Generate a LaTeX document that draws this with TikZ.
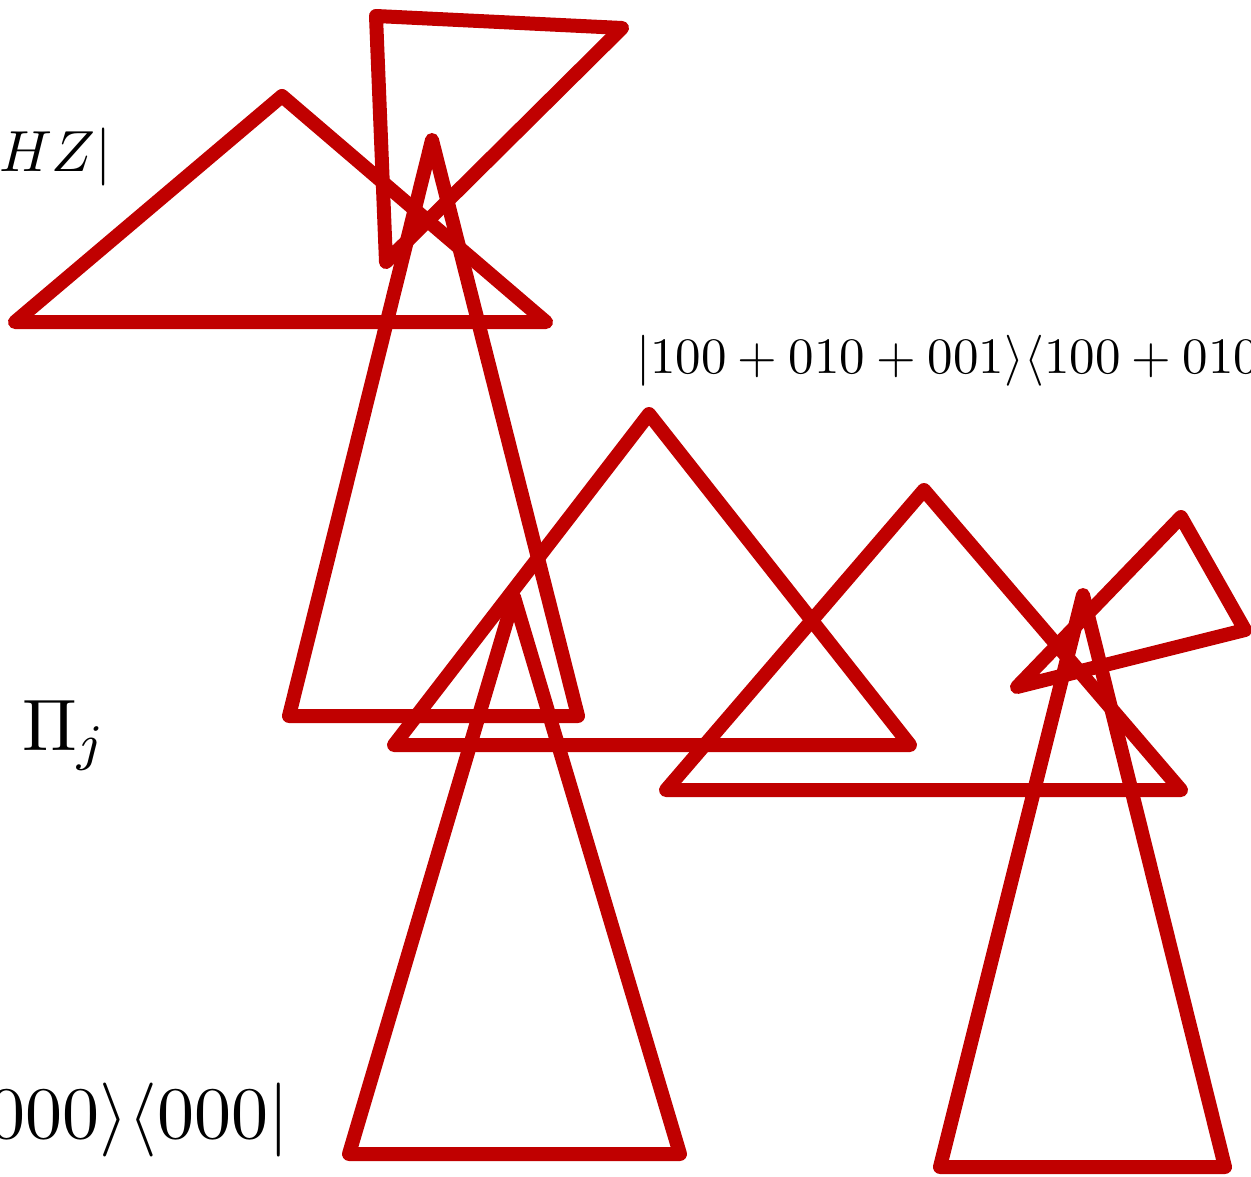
\documentclass[tikz,border=0pt]{standalone}
\definecolor{tri}{RGB}{192,0,0}
\begin{document}
\begin{tikzpicture}[x=1pt,y=-1pt,
  tri/.style={draw=tri,line width=14pt,line join=round,line cap=round},
  lbl/.style={inner sep=0pt,outer sep=0pt,transform shape}]
\useasboundingbox (0,0) rectangle (1251,1177);
\begin{scope}
\clip (0,0) rectangle (1251,1177);
% triangles
\draw[tri] (15,322) -- (282,96) -- (546,322) -- cycle;
\draw[tri] (376,16) -- (622,28) -- (386,262) -- cycle;
\draw[tri] (432,140) -- (289,716) -- (578,716) -- cycle;
\draw[tri] (649,414) -- (394,745) -- (910,745) -- cycle;
\draw[tri] (924,490) -- (666,790) -- (1181,790) -- cycle;
\draw[tri] (1181,517) -- (1245,630) -- (1017,687) -- cycle;
\draw[tri] (514,597) -- (349,1154) -- (680,1154) -- cycle;
\draw[tri] (1083,595) -- (940,1167) -- (1225,1167) -- cycle;
% labels
\node[lbl,anchor=base west,scale=5.8] (hz) at (-1,172) {$HZ|$};
\node[lbl,anchor=base west,scale=5.1] (ket) at (636,373) {$|100+010+001\rangle\langle 100+010+001|$};
\node[lbl,anchor=base west,scale=7.3] (pi) at (22,750) {$\Pi_j$};
\node[lbl,anchor=base east,scale=7.4] (zero) at (289,1138) {$|000\rangle\langle 000|$};
\end{scope}
\end{tikzpicture}
\end{document}
